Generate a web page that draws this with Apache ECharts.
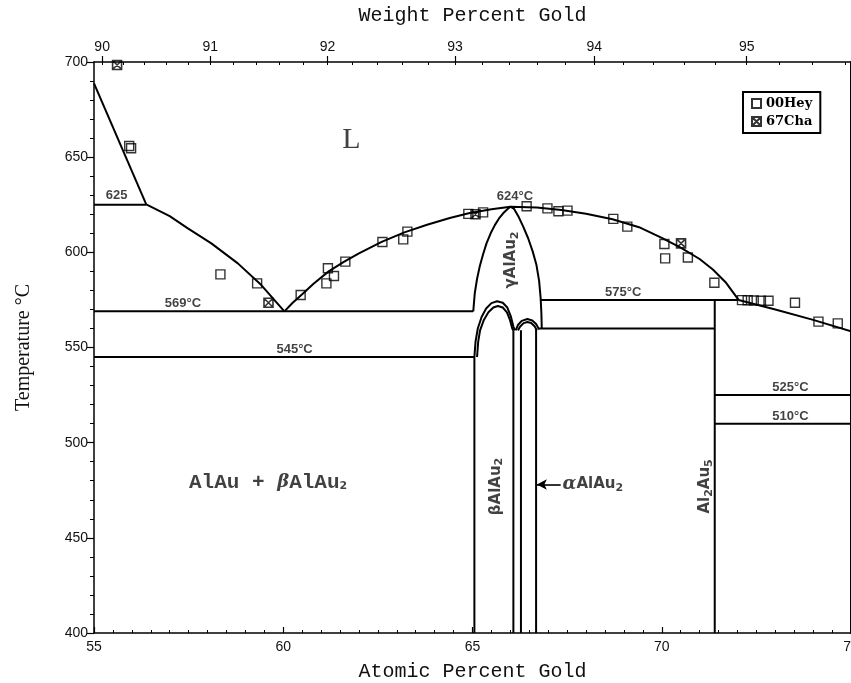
<!DOCTYPE html>
<html>
<head>
<meta charset="utf-8">
<script src="https://cdn.jsdelivr.net/npm/echarts@6/dist/echarts.min.js"></script>
<style>
html,body{margin:0;padding:0;background:#fff}
#chart{width:851px;height:683px}
</style>
</head>
<body>
<div id="chart"></div>
<script>
// Al–Au phase diagram, 55–75 at.% Au (temperature in °C)

// axis ranges and tick labels
const atRange = [55, 75];
const tRange = [400, 700];
const wtTickLabels = ['90', '91', '92', '93', '94', '95'];

// phase boundaries: [at.% Au, °C]
const liquidusAlAu = [[55.0, 688.8], [56.38, 625.2]];
const liquidusEutLeft = [[56.38, 625.2], [57.0, 619.0], [57.48, 612.6], [58.1, 604.7], [58.8, 594.2], [59.42, 582.8], [60.03, 569.0]];
const liquidusGamma = [[60.03, 569.0], [60.25, 573.5], [60.5, 578.0], [60.8, 583.5], [61.2, 590.0], [61.6, 595.0], [62.0, 599.5], [62.6, 605.5], [63.2, 610.5], [63.8, 614.5], [64.4, 618.0], [64.9, 620.5], [65.5, 622.6], [66.0, 624.0], [66.7, 623.5], [67.35, 622.2], [68.0, 620.3], [68.7, 617.4], [69.4, 613.2], [70.0, 607.6], [70.5, 602.5], [71.0, 596.5], [71.35, 591.0], [71.7, 584.0], [72.03, 575.0]];
const liquidusAuRich = [[72.03, 575.0], [73.0, 570.0], [74.0, 564.5], [75.0, 558.5]];
const gammaField = [[65.02, 569.0], [65.06, 578.5], [65.12, 586.0], [65.19, 592.5], [65.28, 599.0], [65.37, 604.7], [65.48, 610.0], [65.59, 614.3], [65.7, 617.8], [65.81, 620.5], [65.92, 622.6], [66.0, 624.0], [66.1, 622.8], [66.21, 619.0], [66.34, 613.5], [66.47, 607.4], [66.59, 600.5], [66.69, 593.3], [66.76, 585.0], [66.8, 576.0], [66.82, 568.0], [66.83, 560.0]];
const betaDomeOuter = [[65.05, 545.0], [65.08, 553.0], [65.14, 560.0], [65.24, 566.0], [65.36, 570.5], [65.5, 573.3], [65.65, 574.3], [65.8, 573.5], [65.92, 571.0], [66.01, 566.5], [66.08, 561.0], [66.12, 559.0]];
const betaDomeInner = [[65.12, 545.0], [65.15, 553.0], [65.2, 559.0], [65.3, 564.5], [65.42, 568.5], [65.55, 571.0], [65.67, 571.8], [65.8, 571.0], [65.91, 568.5], [65.99, 564.5], [66.05, 560.0], [66.08, 559.0]];
const alphaDomeOuter = [[66.14, 559.0], [66.2, 561.8], [66.3, 564.0], [66.45, 565.0], [66.58, 564.2], [66.68, 562.3], [66.76, 559.5]];
const alphaDomeInner = [[66.2, 559.0], [66.26, 561.0], [66.35, 562.8], [66.45, 563.4], [66.55, 562.9], [66.64, 561.2], [66.7, 559.0]];
const iso625 = [[55.0, 625.0], [56.38, 625.0]];
const iso569 = [[55.0, 569.0], [65.02, 569.0]];
const iso545 = [[55.0, 545.0], [65.05, 545.0]];
const iso575 = [[66.8, 575.0], [72.03, 575.0]];
const iso560 = [[66.76, 560.0], [71.4, 560.0]];
const iso525 = [[71.4, 525.0], [75.0, 525.0]];
const iso510 = [[71.4, 510.0], [75.0, 510.0]];
const betaLeft = [[65.05, 400.0], [65.05, 545.0]];
const betaRight = [[66.08, 400.0], [66.08, 559.0]];
const alphaLeft = [[66.28, 400.0], [66.28, 559.0]];
const alphaRight = [[66.68, 400.0], [66.68, 560.0]];
const al2au5Line = [[71.4, 400.0], [71.4, 575.0]];

// experimental points: [at.% Au, °C]
const hey00 = [[55.93, 655.9], [55.98, 654.7], [58.34, 588.4], [59.31, 583.7], [60.46, 577.6], [61.18, 591.6], [61.14, 583.7], [61.34, 587.6], [61.64, 595.1], [62.62, 605.4], [63.17, 606.8], [63.28, 610.9], [64.89, 620.2], [65.28, 621.0], [66.43, 624.2], [66.98, 623.1], [67.27, 621.6], [67.51, 621.9], [68.72, 617.6], [69.09, 613.5], [70.07, 604.4], [70.09, 596.8], [70.69, 597.3], [71.39, 584.0], [72.12, 574.9], [72.27, 574.8], [72.43, 574.7], [72.62, 574.6], [72.82, 574.6], [73.52, 573.5], [74.14, 563.6], [74.65, 562.7]];
const cha67 = [[55.61, 698.4], [59.61, 573.5], [65.08, 620.0], [70.51, 604.7]];

// weight-percent scale on the top edge
const AU = 196.967, AL = 26.982;
const wtToAt = w => { const a = w / AU, b = (100 - w) / AL; return 100 * a / (a + b); };
const wtMajorAt = wtTickLabels.map(s => wtToAt(Number(s)));
const wtMinorAt = [];
for (let w = 90; w <= 95.6 + 1e-9; w += 0.2) wtMinorAt.push(wtToAt(w));

const boundaries = [liquidusAlAu, liquidusEutLeft, liquidusGamma, liquidusAuRich, gammaField,
  betaDomeOuter, betaDomeInner, alphaDomeOuter, alphaDomeInner,
  iso625, iso569, iso545, iso575, iso560, iso525, iso510,
  betaLeft, betaRight, alphaLeft, alphaRight, al2au5Line];

const sub = { fontSize: 11, padding: [7, 0, 0, 0] };
const isoFont = { fontFamily: 'Liberation Sans', fontSize: 13, fontWeight: 'bold', color: '#111' };
const phaseFont = { fontFamily: 'DejaVu Sans', fontSize: 15, fontWeight: 'bold', color: '#111' };

// text annotations placed in data coordinates
const notes = [
  { at: [61.8, 659], text: 'L', style: { fontFamily: 'Liberation Serif', fontSize: 30, color: '#111' } },
  { at: [55.6, 626.5], text: '625', style: Object.assign({ verticalAlign: 'bottom' }, isoFont) },
  { at: [57.35, 569.5], text: '569°C', style: Object.assign({ verticalAlign: 'bottom' }, isoFont) },
  { at: [60.3, 545.5], text: '545°C', style: Object.assign({ verticalAlign: 'bottom' }, isoFont) },
  { at: [66.12, 626.0], text: '624°C', style: Object.assign({ verticalAlign: 'bottom' }, isoFont) },
  { at: [68.98, 575.5], text: '575°C', style: Object.assign({ verticalAlign: 'bottom' }, isoFont) },
  { at: [73.4, 525.5], text: '525°C', style: Object.assign({ verticalAlign: 'bottom' }, isoFont) },
  { at: [73.4, 510.5], text: '510°C', style: Object.assign({ verticalAlign: 'bottom' }, isoFont) },
  { at: [66.03, 596], text: '{t|γAlAu}{s|2}', rotate: 90, style: phaseFont },
  { at: [65.62, 477], text: '{t|βAlAu}{s|2}', rotate: 90, style: phaseFont },
  { at: [71.15, 477], text: '{t|Al}{s|2}{t|Au}{s|5}', rotate: 90, style: phaseFont },
  { at: [67.38, 478], text: '{i|α}{t|AlAu}{s|2}', align: 'left', style: phaseFont },
  { at: [59.6, 479], text: '{m|AlAu + }{i|β}{m|AlAu}{s|2}', style: phaseFont }
];

const noteData = notes.map(n => ({
  value: n.at,
  label: Object.assign({
    show: true,
    position: 'inside',
    formatter: n.text,
    rotate: n.rotate || 0,
    align: n.align || 'center',
    rich: {
      t: { fontFamily: 'DejaVu Sans', fontSize: 15, fontWeight: 'bold', color: '#111' },
      m: { fontFamily: 'Liberation Mono', fontSize: 21, fontWeight: 'bold', color: '#111' },
      i: { fontFamily: 'DejaVu Serif', fontSize: 18, fontStyle: 'italic', fontWeight: 'bold', color: '#111' },
      s: Object.assign({ fontFamily: 'DejaVu Sans', fontWeight: 'bold', color: '#111' }, sub)
    }
  }, n.style)
}));

const crossSquare = 'path://M0,0L10,0L10,10L0,10ZM0,0L10,10M10,0L0,10';

const series = boundaries.map(d => ({
  type: 'line', data: d, showSymbol: false, symbol: 'none', silent: true,
  lineStyle: { color: '#000', width: 2 }, z: 3
}));

series.push({
  name: '00Hey', type: 'scatter', data: hey00, symbol: 'rect', symbolSize: 9, z: 5,
  itemStyle: { color: 'rgba(255,255,255,0)', borderColor: '#000', borderWidth: 1.4 }
});
series.push({
  name: '67Cha', type: 'scatter', data: cha67, symbol: crossSquare, symbolSize: 9, z: 5,
  itemStyle: { color: 'rgba(255,255,255,0)', borderColor: '#000', borderWidth: 1.6 }
});
series.push({
  type: 'scatter', data: noteData, symbolSize: 0, silent: true, z: 6
});
// arrow pointing at the αAlAu2 field
series.push({
  type: 'line', data: [], silent: true,
  markLine: {
    silent: true, symbol: ['none', 'arrow'], symbolSize: [8, 10],
    label: { show: false },
    lineStyle: { color: '#000', width: 1.6, type: 'solid' },
    data: [[{ coord: [67.33, 478] }, { coord: [66.7, 478] }]]
  }
});

const tickFont = { fontFamily: 'Liberation Sans', fontSize: 14, color: '#111' };

const option = {
  animation: false,
  backgroundColor: '#fff',
  grid: { left: 94, right: 0, top: 62, bottom: 50, outerBoundsMode: 'none', containLabel: false },
  legend: {
    orient: 'vertical', left: 743, top: 92,
    data: ['00Hey', '67Cha'],
    backgroundColor: '#fff', borderColor: '#000', borderWidth: 2,
    padding: [5, 8, 5, 8], itemGap: 5, itemWidth: 9, itemHeight: 9,
    textStyle: { fontFamily: 'DejaVu Serif', fontWeight: 'bold', fontSize: 13, color: '#000' }
  },
  xAxis: [
    {
      type: 'value', position: 'bottom', min: atRange[0], max: atRange[1], interval: 5,
      name: 'Atomic Percent Gold', nameLocation: 'middle', nameGap: 29,
      nameTextStyle: { fontFamily: 'Liberation Mono', fontSize: 20, color: '#111' },
      axisLine: { lineStyle: { color: '#000', width: 1.5 } },
      axisTick: { inside: true, length: 6, lineStyle: { color: '#000', width: 1.2 } },
      minorTick: { show: true, splitNumber: 10, length: 3, lineStyle: { color: '#000' } },
      axisLabel: Object.assign({ margin: 7, showMaxLabel: true }, tickFont),
      splitLine: { show: false }
    },
    {
      type: 'value', position: 'top', min: atRange[0], max: atRange[1],
      name: 'Weight Percent Gold', nameLocation: 'middle', nameGap: 36,
      nameTextStyle: { fontFamily: 'Liberation Mono', fontSize: 20, color: '#111' },
      axisLine: { lineStyle: { color: '#000', width: 1.5 } },
      axisTick: { customValues: wtMajorAt, length: 6, lineStyle: { color: '#000', width: 1.2 } },
      axisLabel: Object.assign({
        margin: 8, customValues: wtMajorAt,
        formatter: v => {
          let k = 0, best = 1e9;
          wtMajorAt.forEach((a, i) => { const d = Math.abs(a - v); if (d < best) { best = d; k = i; } });
          return wtTickLabels[k];
        }
      }, tickFont),
      splitLine: { show: false }
    },
    {
      type: 'value', position: 'top', min: atRange[0], max: atRange[1],
      axisLine: { show: false },
      axisTick: { customValues: wtMinorAt, inside: true, length: 3, lineStyle: { color: '#000' } },
      axisLabel: { show: false },
      splitLine: { show: false }
    }
  ],
  yAxis: [
    {
      type: 'value', position: 'left', min: tRange[0], max: tRange[1], interval: 50,
      name: 'Temperature °C', nameLocation: 'middle', nameGap: 60,
      nameTextStyle: { fontFamily: 'Liberation Serif', fontSize: 20, color: '#111' },
      axisLine: { show: true, lineStyle: { color: '#000', width: 1.5 } },
      axisTick: { show: true, length: 7, lineStyle: { color: '#000', width: 1.2 } },
      minorTick: { show: true, splitNumber: 5, length: 4, lineStyle: { color: '#000' } },
      axisLabel: Object.assign({ margin: 6 }, tickFont),
      splitLine: { show: false }
    },
    {
      type: 'value', position: 'right', min: tRange[0], max: tRange[1],
      axisLine: { show: true, lineStyle: { color: '#000', width: 2 } },
      axisTick: { show: false }, axisLabel: { show: false }, splitLine: { show: false }
    }
  ],
  series: series
};

const chart = echarts.init(document.getElementById('chart'));
chart.setOption(option);
</script>
</body>
</html>
